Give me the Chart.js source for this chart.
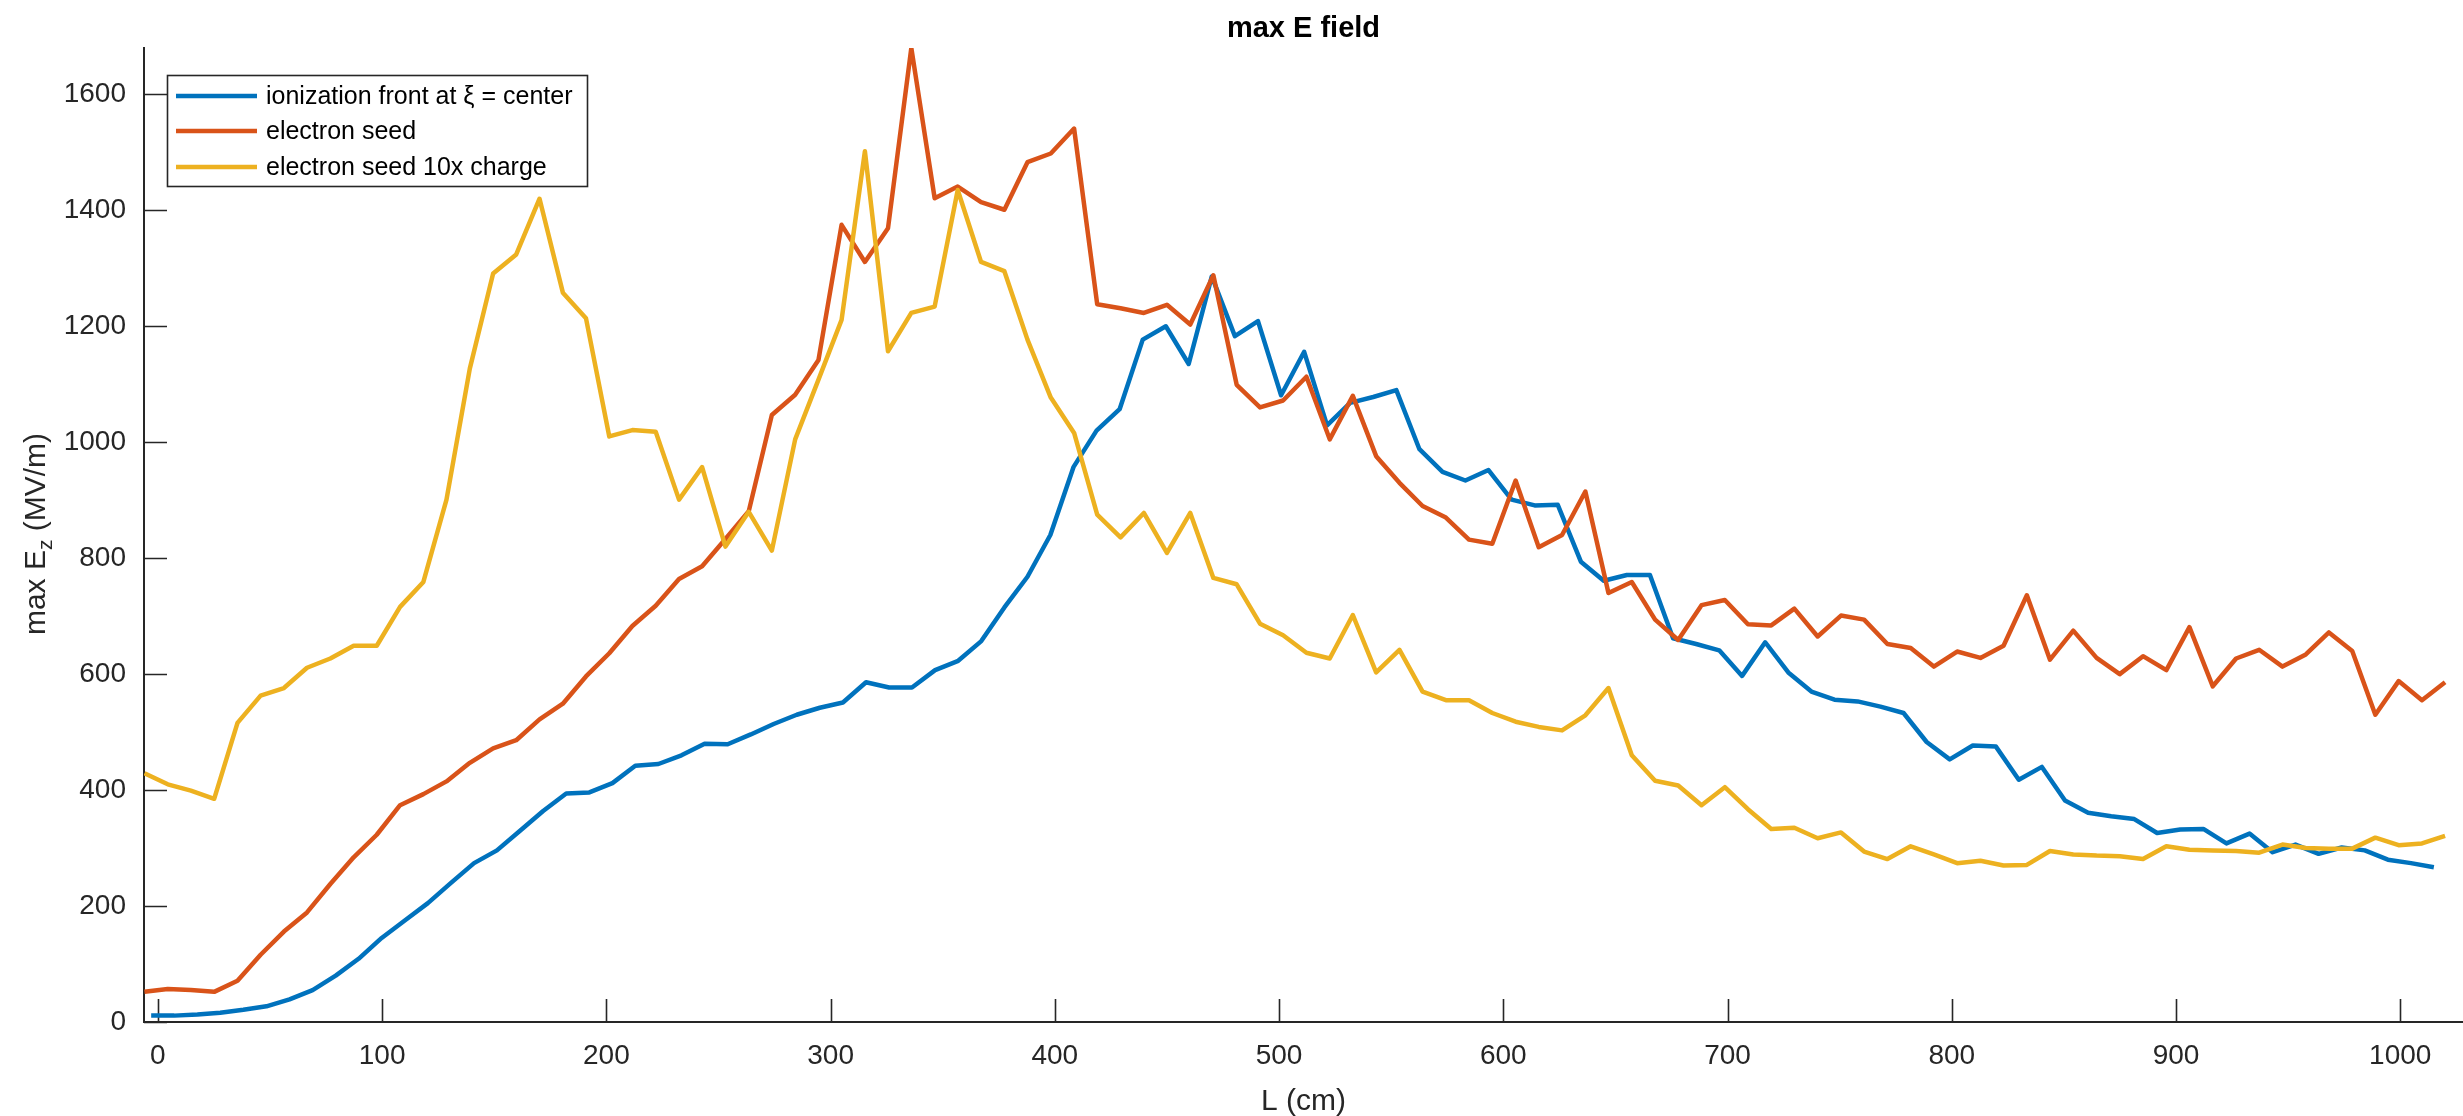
<!DOCTYPE html>
<html>
<head>
<meta charset="utf-8">
<title>max E field</title>
<script src="https://cdn.jsdelivr.net/npm/chart.js@4/dist/chart.umd.min.js"></script>
<style>
  html, body { margin: 0; padding: 0; background: #ffffff; }
  #wrap { width: 2463px; height: 1116px; position: relative; }
  canvas { display: block; }
</style>
</head>
<body>
<div id="wrap"><canvas id="plot" width="2463" height="1116"></canvas></div>
<script>
// Propagation distance L (cm) for each sample of the ionization-front run
const ionFrontL = [
  -3.0, 7.3, 17.6, 27.8, 38.1, 48.4, 58.7, 69.0, 79.3, 89.5,
  99.8, 110.1, 120.4, 130.7, 141.0, 151.2, 161.5, 171.8, 182.1, 192.4,
  202.7, 212.9, 223.2, 233.5, 243.8, 254.1, 264.4, 274.6, 284.9, 295.2,
  305.5, 315.8, 326.1, 336.3, 346.6, 356.9, 367.2, 377.5, 387.8, 398.0,
  408.3, 418.6, 428.9, 439.2, 449.5, 459.7, 470.0, 480.3, 490.6, 500.9,
  511.2, 521.4, 531.7, 542.0, 552.3, 562.6, 572.9, 583.1, 593.4, 603.7,
  614.0, 624.3, 634.6, 644.8, 655.1, 665.4, 675.7, 686.0, 696.3, 706.5,
  716.8, 727.1, 737.4, 747.7, 758.0, 768.2, 778.5, 788.8, 799.1, 809.4,
  819.7, 829.9, 840.2, 850.5, 860.8, 871.1, 881.4, 891.6, 901.9, 912.2,
  922.5, 932.8, 943.1, 953.3, 963.6, 973.9, 984.2, 994.5, 1004.8, 1015.0
];
// max Ez (MV/m), ionization front at xi = center
const ionFrontEz = [
  11, 11, 13, 16, 21, 27, 39, 55, 80, 109,
  145, 175, 205, 240, 274, 296, 330, 364, 394, 396,
  412, 442, 445, 460, 480, 479, 496, 514, 530, 542,
  551, 586, 577, 577, 607, 623, 657, 715, 768, 840,
  957, 1020, 1057, 1177, 1200, 1135, 1286, 1183, 1209, 1081,
  1156, 1029, 1068, 1078, 1090, 988, 949, 934, 952, 901,
  891, 892, 794, 761, 771, 771, 662, 652, 641, 597,
  655, 603, 570, 556, 553, 544, 533, 483, 453, 477,
  475, 418, 440, 382, 361, 355, 350, 326, 332, 333,
  308, 325, 293, 306, 290, 301, 296, 280, 274, 267
];

// Propagation distance L (cm) for the two electron-seed runs
const seedL = [
  -6.0, 4.4, 14.7, 25.1, 35.5, 45.8, 56.2, 66.5, 76.9, 87.3,
  97.6, 108.0, 118.4, 128.7, 139.1, 149.5, 159.8, 170.2, 180.6, 190.9,
  201.3, 211.6, 222.0, 232.4, 242.7, 253.1, 263.5, 273.8, 284.2, 294.6,
  304.9, 315.3, 325.6, 336.0, 346.4, 356.7, 367.1, 377.5, 387.8, 398.2,
  408.6, 418.9, 429.3, 439.7, 450.0, 460.4, 470.7, 481.1, 491.5, 501.8,
  512.2, 522.6, 532.9, 543.3, 553.7, 564.0, 574.4, 584.7, 595.1, 605.5,
  615.8, 626.2, 636.6, 646.9, 657.3, 667.7, 678.0, 688.4, 698.8, 709.1,
  719.5, 729.8, 740.2, 750.6, 760.9, 771.3, 781.7, 792.0, 802.4, 812.8,
  823.1, 833.5, 843.8, 854.2, 864.6, 874.9, 885.3, 895.7, 906.0, 916.4,
  926.8, 937.1, 947.5, 957.9, 968.2, 978.6, 988.9, 999.3, 1009.7, 1020.0
];
// max Ez (MV/m), electron seed
const seedEz = [
  52, 57, 55, 52, 71, 116, 156, 189, 238, 284,
  323, 374, 393, 415, 447, 472, 486, 522, 549, 596,
  636, 683, 718, 764, 786, 833, 881, 1047, 1082, 1142,
  1375, 1311, 1369, 1680, 1421, 1441, 1414, 1401, 1483, 1498,
  1541, 1238, 1231, 1223, 1237, 1203, 1288, 1099, 1060, 1072,
  1113, 1005, 1080, 976, 930, 890, 870, 832, 825, 934,
  819, 840, 915, 740, 759, 694, 659, 719, 728, 686,
  684, 713, 665, 701, 694, 652, 645, 613, 639, 628,
  649, 736, 625, 675, 628, 600, 631, 607, 681, 579,
  627, 642, 613, 634, 672, 640, 530, 588, 555, 586
];
// max Ez (MV/m), electron seed with 10x charge
const seed10xEz = [
  429, 410, 399, 385, 516, 563, 576, 611, 627, 649,
  649, 716, 759, 901, 1127, 1291, 1324, 1420, 1258, 1214,
  1010, 1021, 1018, 901, 957, 820, 880, 813, 1005, 1108,
  1211, 1502, 1157, 1223, 1234, 1435, 1311, 1295, 1177, 1077,
  1016, 875, 836, 878, 809, 878, 766, 755, 687, 667,
  637, 627, 702, 603, 642, 570, 555, 555, 533, 518,
  509, 503, 529, 576, 460, 416, 408, 374, 405, 367,
  333, 335, 317, 327, 294, 281, 303, 289, 274, 278,
  270, 271, 295, 289, 287, 286, 281, 303, 297, 296,
  295, 292, 306, 300, 299, 299, 318, 305, 308, 321
];

const seriesNames = [
  'ionization front at \u03BE = center',
  'electron seed',
  'electron seed 10x charge'
];
const seriesColors = ['#0072BD', '#D95319', '#EDB120'];

const xTicks = [0, 100, 200, 300, 400, 500, 600, 700, 800, 900, 1000];
const yTicks = [0, 200, 400, 600, 800, 1000, 1200, 1400, 1600];

const FONT = "'Liberation Sans', Arial, Helvetica, sans-serif";
const AXIS_COLOR = '#262626';

function pairs(xs, ys) {
  return ys.map((y, i) => ({ x: xs[i], y: y }));
}

// MATLAB-style frame: inward ticks, title, axis labels, legend box
const decorations = {
  id: 'decorations',
  beforeDatasetsDraw(chart) {
    const ctx = chart.ctx;
    const xs = chart.scales.x, ys = chart.scales.y;
    const area = chart.chartArea;
    const tickLen = 23;
    ctx.save();
    ctx.strokeStyle = AXIS_COLOR;
    ctx.lineWidth = 1.6;
    ctx.beginPath();
    xTicks.forEach(v => {
      const px = Math.round(xs.getPixelForValue(v)) + 0.5;
      ctx.moveTo(px, area.bottom);
      ctx.lineTo(px, area.bottom - tickLen);
    });
    yTicks.forEach(v => {
      const py = Math.round(ys.getPixelForValue(v)) + 0.5;
      ctx.moveTo(area.left, py);
      ctx.lineTo(area.left + tickLen, py);
    });
    ctx.stroke();
    ctx.restore();
  },
  afterDraw(chart) {
    const ctx = chart.ctx;
    const area = chart.chartArea;
    ctx.save();

    // title
    ctx.fillStyle = '#000000';
    ctx.font = 'bold 29px ' + FONT;
    ctx.textAlign = 'center';
    ctx.textBaseline = 'alphabetic';
    ctx.fillText('max E field', (area.left + area.right) / 2, 37);

    // x axis label
    ctx.fillStyle = AXIS_COLOR;
    ctx.font = '30px ' + FONT;
    ctx.fillText('L (cm)', (area.left + area.right) / 2, 1110);

    // y axis label with subscript z, rotated
    const main1 = 'max E', sub = 'z', main2 = ' (MV/m)';
    ctx.font = '30px ' + FONT;
    const w1 = ctx.measureText(main1).width;
    const w3 = ctx.measureText(main2).width;
    ctx.font = '21px ' + FONT;
    const w2 = ctx.measureText(sub).width;
    const total = w1 + w2 + w3;
    ctx.translate(45, 534);
    ctx.rotate(-Math.PI / 2);
    ctx.textAlign = 'left';
    let cx = -total / 2;
    ctx.font = '30px ' + FONT;
    ctx.fillText(main1, cx, 0);
    cx += w1;
    ctx.font = '21px ' + FONT;
    ctx.fillText(sub, cx, 7);
    cx += w2;
    ctx.font = '30px ' + FONT;
    ctx.fillText(main2, cx, 0);
    ctx.setTransform(1, 0, 0, 1, 0, 0);

    // legend
    const box = { x: 167, y: 75, w: 420, h: 111 };
    ctx.fillStyle = '#ffffff';
    ctx.fillRect(box.x, box.y, box.w, box.h);
    ctx.strokeStyle = AXIS_COLOR;
    ctx.lineWidth = 1.6;
    ctx.strokeRect(box.x + 0.5, box.y + 0.5, box.w, box.h);
    const rows = [96, 131, 167];
    chart.data.datasets.forEach((ds, i) => {
      ctx.strokeStyle = ds.borderColor;
      ctx.lineWidth = 4.5;
      ctx.beginPath();
      ctx.moveTo(176, rows[i]);
      ctx.lineTo(257, rows[i]);
      ctx.stroke();
      ctx.fillStyle = '#000000';
      ctx.font = '25px ' + FONT;
      ctx.textAlign = 'left';
      ctx.textBaseline = 'middle';
      ctx.fillText(ds.label, 266, rows[i] + 1);
    });
    ctx.restore();
  }
};

const datasets = [
  { label: seriesNames[0], data: pairs(ionFrontL, ionFrontEz), borderColor: seriesColors[0], order: 3 },
  { label: seriesNames[1], data: pairs(seedL, seedEz), borderColor: seriesColors[1], order: 2 },
  { label: seriesNames[2], data: pairs(seedL, seed10xEz), borderColor: seriesColors[2], order: 1 }
].map(d => Object.assign(d, {
  borderWidth: 4.5,
  pointRadius: 0,
  pointHoverRadius: 0,
  fill: false,
  tension: 0,
  borderJoinStyle: 'round',
  backgroundColor: d.borderColor
}));

new Chart(document.getElementById('plot'), {
  type: 'line',
  data: { datasets: datasets },
  options: {
    responsive: false,
    animation: false,
    devicePixelRatio: 1,
    events: [],
    layout: { padding: { top: 48, right: 0, bottom: 0, left: 0 } },
    plugins: { legend: { display: false }, title: { display: false }, tooltip: { enabled: false } },
    scales: {
      x: {
        type: 'linear',
        min: -6.2,
        max: 1028,
        afterFit: s => { s.height = 94; },
        afterBuildTicks: s => { s.ticks = xTicks.map(v => ({ value: v })); },
        grid: { display: false, drawTicks: false },
        border: { display: true, color: AXIS_COLOR, width: 2 },
        ticks: {
          autoSkip: false,
          maxRotation: 0,
          padding: 17,
          color: AXIS_COLOR,
          font: { family: FONT, size: 28 },
          callback: v => String(v)
        }
      },
      y: {
        type: 'linear',
        min: 0,
        max: 1680,
        afterFit: s => { s.width = 144; },
        afterBuildTicks: s => { s.ticks = yTicks.map(v => ({ value: v })); },
        grid: { display: false, drawTicks: false },
        border: { display: true, color: AXIS_COLOR, width: 2 },
        ticks: {
          padding: 18,
          color: AXIS_COLOR,
          font: { family: FONT, size: 28 },
          callback: v => String(v)
        }
      }
    }
  },
  plugins: [decorations]
});
</script>
</body>
</html>
